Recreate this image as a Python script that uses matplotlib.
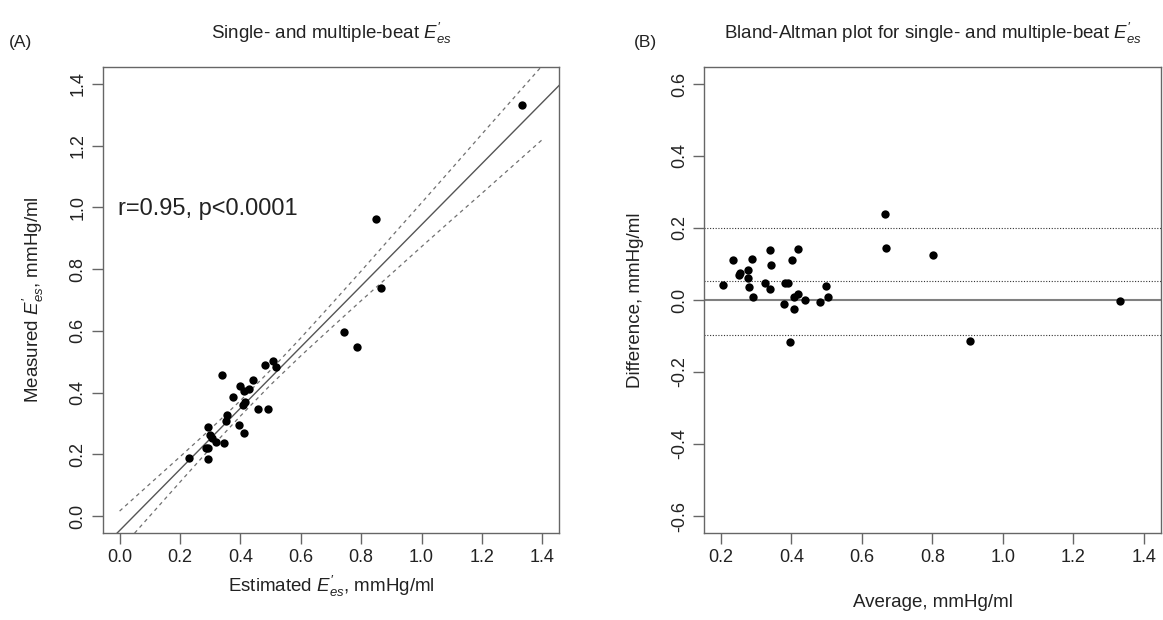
import matplotlib.pyplot as plt
from matplotlib.ticker import FormatStrFormatter

plt.rcParams['font.family'] = ['Liberation Sans', 'DejaVu Sans']
plt.rcParams['mathtext.fontset'] = 'custom'
plt.rcParams['mathtext.rm'] = 'Liberation Sans'
plt.rcParams['mathtext.it'] = 'Liberation Sans:italic'
plt.rcParams['mathtext.bf'] = 'Liberation Sans:bold'

# Panel A: estimated (single-beat) vs measured (multiple-beat) E'es
estimated = [1.331, 0.849, 0.865, 0.742, 0.785, 0.338, 0.480, 0.507, 0.519, 0.441,
             0.398, 0.430, 0.413, 0.377, 0.416, 0.407, 0.459, 0.492, 0.355, 0.352,
             0.394, 0.292, 0.411, 0.298, 0.307, 0.319, 0.346, 0.285, 0.294, 0.230,
             0.292]
measured = [1.333, 0.963, 0.739, 0.597, 0.548, 0.456, 0.488, 0.501, 0.484, 0.441,
            0.422, 0.411, 0.405, 0.386, 0.368, 0.361, 0.348, 0.348, 0.327, 0.309,
            0.296, 0.290, 0.268, 0.263, 0.252, 0.241, 0.235, 0.220, 0.219, 0.189,
            0.184]

# regression line and its confidence band
reg_intercept = -0.047
reg_slope = 0.991
band_x = [0.0, 0.1, 0.2, 0.3, 0.4, 0.5, 0.6, 0.7, 0.8, 0.9, 1.0, 1.1, 1.2, 1.3, 1.4]
band_upper = [0.016, 0.104, 0.192, 0.281, 0.374, 0.473, 0.577, 0.685, 0.794, 0.905,
              1.015, 1.126, 1.238, 1.349, 1.460]
band_lower = [-0.110, 0.000, 0.110, 0.219, 0.324, 0.425, 0.519, 0.609, 0.698, 0.785,
              0.873, 0.960, 1.046, 1.133, 1.220]

# Panel B: Bland-Altman
ba_avg = [0.207, 0.235, 0.251, 0.254, 0.276, 0.276, 0.281, 0.289, 0.290, 0.326,
          0.338, 0.338, 0.343, 0.383, 0.390, 0.379, 0.395, 0.401, 0.408, 0.408,
          0.418, 0.420, 0.439, 0.482, 0.499, 0.503, 0.666, 0.669, 0.803, 0.906,
          1.334]
ba_diff = [0.041, 0.112, 0.069, 0.074, 0.084, 0.060, 0.037, 0.114, 0.007, 0.046,
           0.140, 0.030, 0.098, 0.046, 0.046, -0.010, -0.118, 0.110, 0.008, -0.024,
           0.143, 0.017, -0.001, -0.006, 0.040, 0.009, 0.238, 0.144, 0.126, -0.113,
           -0.003]
mean_diff = 0.052
loa_upper = 0.200
loa_lower = -0.096

a_ticks = [0.0, 0.2, 0.4, 0.6, 0.8, 1.0, 1.2, 1.4]
b_xticks = [0.2, 0.4, 0.6, 0.8, 1.0, 1.2, 1.4]
b_yticks = [-0.6, -0.4, -0.2, 0.0, 0.2, 0.4, 0.6]

W, H = 1163, 620
fig = plt.figure(figsize=(W / 100, H / 100), dpi=100)


def px(x, y):
    return x / W, 1 - y / H


ax1 = fig.add_axes([102.7 / W, 1 - 533.3 / H, 456.6 / W, 466.6 / H])
ax2 = fig.add_axes([704 / W, 1 - 533.3 / H, 456.6 / W, 466.6 / H])

spine_col = '#666666'
text_col = '#222222'
for ax in (ax1, ax2):
    for s in ax.spines.values():
        s.set_color(spine_col)
        s.set_linewidth(1.0)
    ax.tick_params(direction='out', length=8, width=1, color=spine_col,
                   labelsize=13, labelcolor=text_col, pad=3.5)
    ax.tick_params(axis='y', labelrotation=90)
    ax.xaxis.set_major_formatter(FormatStrFormatter('%.1f'))
    ax.yaxis.set_major_formatter(FormatStrFormatter('%.1f'))

# Panel A
ax1.set_xlim(-0.056, 1.456)
ax1.set_ylim(-0.056, 1.456)
ax1.set_xticks(a_ticks)
ax1.set_yticks(a_ticks)
ax1.axline((0, reg_intercept), slope=reg_slope, color='#555555', lw=1.0)
ax1.plot(band_x, band_upper, color='#707070', lw=0.9, ls=(0, (3, 3)))
ax1.plot(band_x, band_lower, color='#707070', lw=0.9, ls=(0, (3, 3)))
ax1.plot(estimated, measured, 'o', color='black', ms=6, mec='none', zorder=5)
ax1.text(-0.005, 0.975, 'r=0.95, p<0.0001', fontsize=17, color=text_col,
         ha='left', va='baseline')

# Panel B
ax2.set_xlim(0.152, 1.448)
ax2.set_ylim(-0.648, 0.648)
ax2.set_xticks(b_xticks)
ax2.set_yticks(b_yticks)
ax2.axhline(0, color='#808080', lw=1.5)
for yv in (mean_diff, loa_upper, loa_lower):
    ax2.axhline(yv, color='#333333', lw=0.8, ls=(0, (1, 1.5)))
ax2.plot(ba_avg, ba_diff, 'o', color='black', ms=6, mec='none', zorder=5)

for lab in ax1.get_yticklabels() + ax2.get_yticklabels():
    lab.set_va('center')

# titles and labels
ep = r'$E_{es}^{\prime}$'
fig.text(*px(331, 39), 'Single- and multiple-beat ' + ep, ha='center',
         va='baseline', fontsize=13.5, color=text_col)
fig.text(*px(932.5, 39), 'Bland-Altman plot for single- and multiple-beat ' + ep,
         ha='center', va='baseline', fontsize=13.5, color=text_col)
fig.text(*px(9, 47), '(A)', ha='left', va='baseline', fontsize=12.5, color=text_col)
fig.text(*px(634, 47), '(B)', ha='left', va='baseline', fontsize=12.5, color=text_col)
fig.text(*px(331, 592), 'Estimated ' + ep + ', mmHg/ml', ha='center',
         va='baseline', fontsize=13.5, color=text_col)
fig.text(*px(932.5, 607), 'Average, mmHg/ml', ha='center', va='baseline',
         fontsize=13.5, color=text_col)
fig.text(*px(33, 300), 'Measured ' + ep + ', mmHg/ml', rotation=90, ha='center',
         va='center', fontsize=13.5, color=text_col)
fig.text(*px(636, 300), 'Difference, mmHg/ml', rotation=90, ha='center',
         va='center', fontsize=13.5, color=text_col)

fig.savefig('out.png', dpi=100)
